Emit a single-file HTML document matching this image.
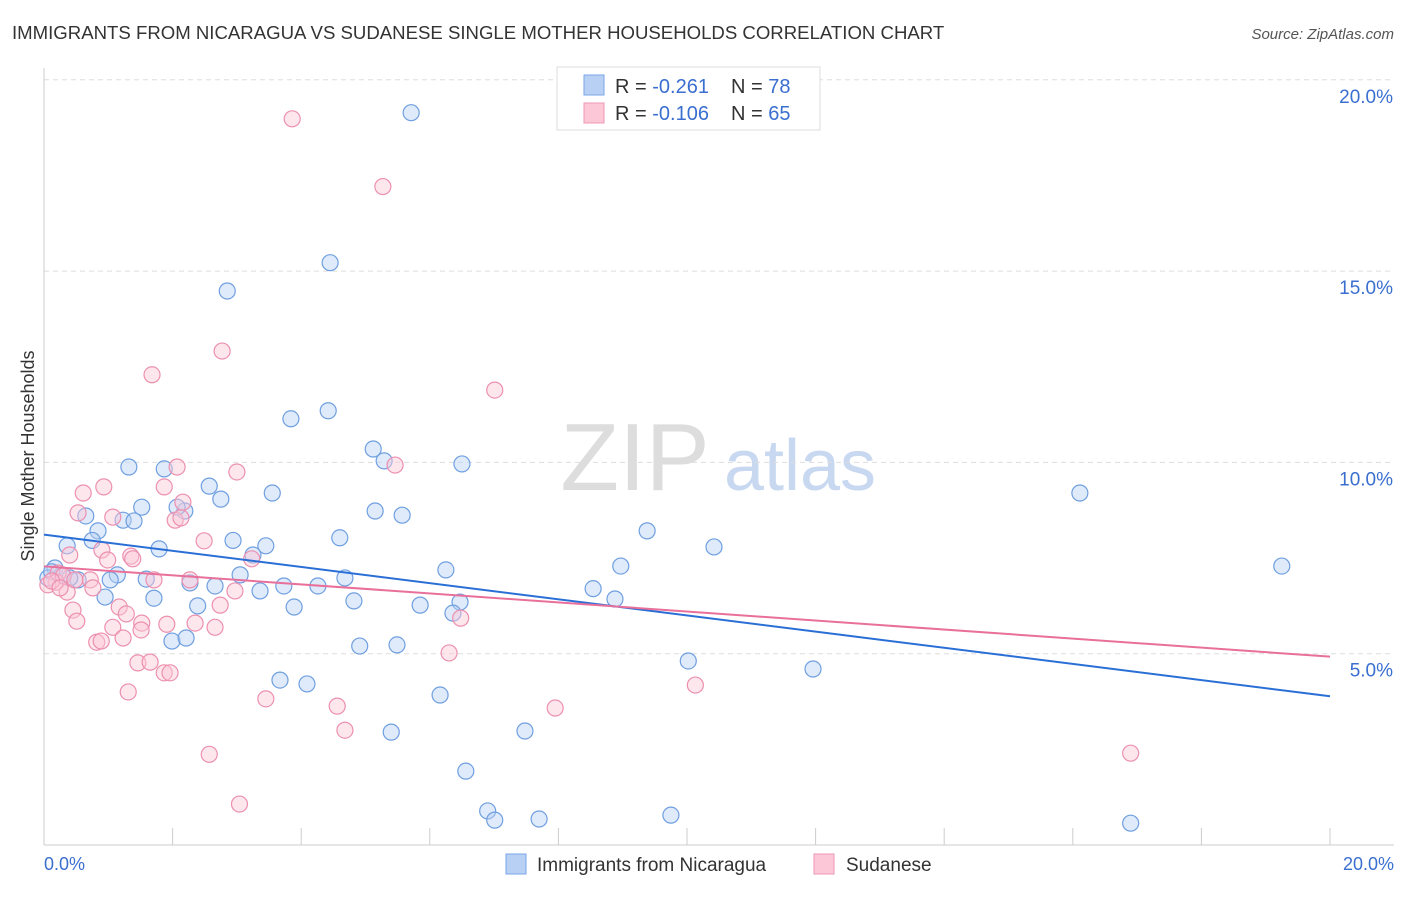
<!DOCTYPE html>
<html><head><meta charset="utf-8"><style>
body{margin:0;background:#fff;font-family:"Liberation Sans",sans-serif;}
svg text{font-family:"Liberation Sans",sans-serif;}
</style></head><body>
<svg id="c" width="1406" height="892">
<text x="12" y="39" font-size="18.6" fill="#333">IMMIGRANTS FROM NICARAGUA VS SUDANESE SINGLE MOTHER HOUSEHOLDS CORRELATION CHART</text>
<text x="1394" y="39" font-size="15" fill="#555" font-style="italic" text-anchor="end">Source: ZipAtlas.com</text>
<text x="34" y="456" font-size="18" fill="#333" transform="rotate(-90 34 456)" text-anchor="middle">Single Mother Households</text>
<g><text x="635" y="490" font-size="96" fill="#ddd" font-family="Liberation Serif" text-anchor="middle">ZIP</text><text x="800" y="490" font-size="72" fill="#c8d8f0" text-anchor="middle">atlas</text></g>
<g id="grid"></g><g id="marks"></g>
<g>
<rect x="557" y="67" width="263" height="63" fill="#fff" stroke="#ddd"/>
<rect x="584" y="75" width="20" height="20" fill="#b8d0f4" stroke="#7aa6e6"/>
<rect x="584" y="103" width="20" height="20" fill="#fcc8d8" stroke="#ee98b4"/>
<text x="615" y="93" font-size="20" fill="#333">R = <tspan fill="#3a6fd0">-0.261</tspan><tspan dx="22">N = </tspan><tspan fill="#3a6fd0">78</tspan></text>
<text x="615" y="120" font-size="20" fill="#333">R = <tspan fill="#3a6fd0">-0.106</tspan><tspan dx="22">N = </tspan><tspan fill="#3a6fd0">65</tspan></text>
</g>
<g>
<rect x="506" y="854" width="20" height="20" fill="#b8d0f4" stroke="#7aa6e6"/>
<text x="537" y="871" font-size="19" fill="#333">Immigrants from Nicaragua</text>
<rect x="814" y="854" width="20" height="20" fill="#fcc8d8" stroke="#ee98b4"/>
<text x="846" y="871" font-size="19" fill="#333">Sudanese</text>
</g>
</svg>
<script>
const yTicks=[5,10,15,20];
const xTickLabels=["0.0%","20.0%"];
const blueX=[5.71,4.45,2.85,3.84,4.42,5.12,5.29,6.5,1.32,1.87,2.57,3.55,2.75,1.52,2.19,5.15,5.57,0.65,1.23,1.4,0.84,4.6,9.38,10.42,16.11,19.25,0.75,0.36,1.79,3.45,3.25,6.25,8.97,0.17,0.28,0.06,1.14,3.05,1.59,2.27,0.53,1.03,2.66,3.73,4.26,4.68,3.36,8.54,1.71,0.95,4.82,5.85,6.47,8.88,2.39,3.89,6.36,1.99,2.21,4.91,5.49,10.02,11.96,3.67,4.09,6.16,5.4,7.48,6.56,6.9,7.01,7.7,9.75,16.9,2.07,2.94,0.4,0.12];
const blueY=[19.14,15.22,14.48,11.14,11.35,10.35,10.04,9.96,9.88,9.83,9.38,9.2,9.04,8.83,8.73,8.73,8.62,8.6,8.49,8.47,8.21,8.03,8.21,7.79,9.2,7.29,7.96,7.82,7.74,7.82,7.58,7.19,7.29,7.24,7.06,6.98,7.06,7.06,6.95,6.85,6.93,6.93,6.77,6.77,6.77,6.98,6.64,6.7,6.45,6.48,6.38,6.27,6.35,6.43,6.25,6.22,6.06,5.33,5.41,5.2,5.23,4.81,4.6,4.31,4.21,3.92,2.95,2.98,1.93,0.89,0.65,0.68,0.78,0.57,8.83,7.96,6.98,7.14];
const pinkX=[3.86,5.27,2.77,1.68,7.01,2.07,3.0,5.46,0.61,0.93,1.87,0.53,1.07,2.16,2.04,2.13,2.49,0.4,0.9,1.35,0.99,1.38,3.23,0.22,0.72,1.71,2.27,0.19,0.06,0.36,0.76,1.17,1.28,2.74,2.97,0.45,0.51,1.52,1.91,2.35,1.07,1.51,2.66,0.82,1.23,0.89,6.48,1.46,1.65,1.87,1.96,6.3,1.31,3.45,4.56,7.95,10.13,2.57,4.68,3.04,16.9,0.3,0.12,0.25,0.48];
const pinkY=[18.98,17.21,12.91,12.29,11.89,9.88,9.75,9.93,9.2,9.36,9.36,8.68,8.57,8.96,8.49,8.55,7.95,7.58,7.71,7.55,7.45,7.48,7.48,7.11,6.93,6.93,6.93,6.87,6.8,6.61,6.72,6.22,6.04,6.27,6.64,6.14,5.85,5.8,5.77,5.8,5.69,5.62,5.69,5.3,5.41,5.33,5.93,4.76,4.78,4.5,4.5,5.02,4.0,3.82,3.63,3.58,4.18,2.37,3.0,1.07,2.4,7.03,6.9,6.72,6.93];
const X0=44,XS=64.3,Y0=845,YS=38.26;
const sx=v=>X0+v*XS, sy=v=>Y0-v*YS;
const NS="http://www.w3.org/2000/svg";
function mk(t,a,p){const e=document.createElementNS(NS,t);for(const k in a)e.setAttribute(k,a[k]);p.appendChild(e);return e;}
const grid=document.getElementById('grid'),marks=document.getElementById('marks');
for(const t of yTicks){
 const l=mk('line',{x1:44,x2:1394,y1:sy(t),y2:sy(t),stroke:'#ddd','stroke-dasharray':'5,4'},grid);
 
 
 const tx=mk('text',{x:1393,y:sy(t)+23,'font-size':19,fill:'#3a6fd0','text-anchor':'end'},grid);
 tx.textContent=t.toFixed(1)+'%';
 
 
}
mk('line',{x1:44,x2:1394,y1:845,y2:845,stroke:'#ccc'},grid);
mk('line',{x1:44,x2:44,y1:68,y2:845,stroke:'#ccc'},grid);
for(let i=0;i<=10;i++){const x=sx(i*2);const tk=mk('line',{x1:x,x2:x,y1:828,y2:845,stroke:'#ccc'},grid);
 
 }
const xl0=mk('text',{x:44,y:870,'font-size':18,fill:'#3a6fd0'},grid);xl0.textContent=xTickLabels[0];


const xl1=mk('text',{x:1394,y:870,'font-size':18,fill:'#3a6fd0','text-anchor':'end'},grid);xl1.textContent=xTickLabels[1];


function pts(xs,ys,fill,stroke,name){for(let i=0;i<xs.length;i++){const c=mk('circle',{cx:sx(xs[i]),cy:sy(ys[i]),r:8,fill:fill,'fill-opacity':0.45,stroke:stroke,'stroke-width':1.2},marks);
 
 }}
pts(blueX,blueY,'#b8d0f4','#6f9fe0','nicaragua-point');
pts(pinkX,pinkY,'#fcc8d8','#ec90b0','sudanese-point');
function trend(xs,ys,col,name){const n=xs.length;let mx=0,my=0;for(let i=0;i<n;i++){mx+=xs[i];my+=ys[i];}mx/=n;my/=n;let a=0,b=0;for(let i=0;i<n;i++){a+=(xs[i]-mx)*(ys[i]-my);b+=(xs[i]-mx)**2;}const s=a/b,c0=my-s*mx;
 const l=mk('line',{x1:sx(0),y1:sy(c0),x2:sx(20),y2:sy(c0+s*20),stroke:col,'stroke-width':2},marks);
 
 }
trend(blueX,blueY,'#2a6fd6','nicaragua-trendline');
trend(pinkX,pinkY,'#e8709a','sudanese-trendline');
</script>
</body></html>
